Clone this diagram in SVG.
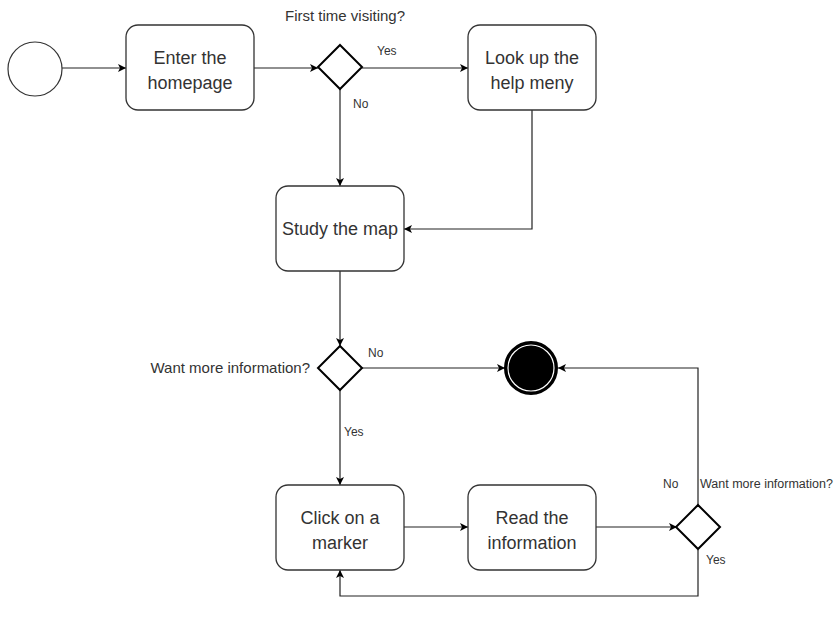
<svg xmlns="http://www.w3.org/2000/svg" width="838" height="625" viewBox="0 0 838 625">
  <defs>
    <marker id="arrow" markerWidth="10" markerHeight="10" refX="8" refY="5" orient="auto" markerUnits="userSpaceOnUse">
      <path d="M0,1 L8,5 L0,9 L2,5 Z" fill="#000"/>
    </marker>
    <style>
      .box { fill: #fff; stroke: #333; stroke-width: 1.3; }
      .dec { fill: #fff; stroke: #000; stroke-width: 2; }
      .edge { fill: none; stroke: #222; stroke-width: 1.2; marker-end: url(#arrow); }
      .t { font-family: "Liberation Sans", Arial, sans-serif; font-size: 18px; fill: #333; text-anchor: middle; }
      .lbl { font-family: "Liberation Sans", Arial, sans-serif; font-size: 12px; fill: #333; }
      .q { font-family: "Liberation Sans", Arial, sans-serif; font-size: 15px; fill: #333; }
    </style>
  </defs>
  <rect width="838" height="625" fill="#fff"/>

  <g id="connectors">
    <path class="edge" d="M62,68 L126,68"/>
    <path class="edge" d="M254,68 L318,68"/>
    <path class="edge" d="M362,68 L468,68"/>
    <path class="edge" d="M340,89 L340,186"/>
    <path class="edge" d="M532,110 L532,229 L404,229"/>
    <path class="edge" d="M340,271 L340,346"/>
    <path class="edge" d="M362,368 L505,368"/>
    <path class="edge" d="M340,390 L340,485"/>
    <path class="edge" d="M404,527 L468,527"/>
    <path class="edge" d="M596,527 L677,527"/>
    <path class="edge" d="M698,505 L698,368 L558,368"/>
    <path class="edge" d="M698,550 L698,596 L340,596 L340,570"/>
    <text class="lbl" x="377" y="55">Yes</text>
    <text class="lbl" x="353" y="108">No</text>
    <text class="lbl" x="368" y="357">No</text>
    <text class="lbl" x="344" y="436">Yes</text>
    <text class="lbl" x="663" y="488">No</text>
    <text class="lbl" x="706" y="564">Yes</text>
  </g>

  <g id="start">
    <circle cx="35" cy="69" r="27" fill="#fff" stroke="#333" stroke-width="1.2"/>
  </g>

  <g id="enter-homepage">
    <rect class="box" x="126" y="25" width="128" height="85" rx="12"/>
    <text class="t" x="190" y="64">Enter the</text>
    <text class="t" x="190" y="89">homepage</text>
  </g>

  <g id="first-visit">
    <polygon class="dec" points="340,45 362,67 340,89 318,67"/>
    <text class="q" x="345" y="21" text-anchor="middle">First time visiting?</text>
  </g>

  <g id="help-menu">
    <rect class="box" x="468" y="25" width="128" height="85" rx="12"/>
    <text class="t" x="532" y="64">Look up the</text>
    <text class="t" x="532" y="89">help meny</text>
  </g>

  <g id="study-map">
    <rect class="box" x="276" y="186" width="128" height="85" rx="12"/>
    <text class="t" x="340" y="235">Study the map</text>
  </g>

  <g id="more-info-1">
    <polygon class="dec" points="340,346 362,368 340,390 318,368"/>
    <text class="q" x="310" y="373" text-anchor="end">Want more information?</text>
  </g>

  <g id="end">
    <circle cx="531" cy="368" r="26" fill="#000" stroke="#000" stroke-width="2"/>
    <circle cx="531" cy="368" r="23" fill="none" stroke="#fff" stroke-width="1.2"/>
  </g>

  <g id="click-marker">
    <rect class="box" x="276" y="485" width="128" height="85" rx="12"/>
    <text class="t" x="340" y="524">Click on a</text>
    <text class="t" x="340" y="549">marker</text>
  </g>

  <g id="read-info">
    <rect class="box" x="468" y="485" width="128" height="85" rx="12"/>
    <text class="t" x="532" y="524">Read the</text>
    <text class="t" x="532" y="549">information</text>
  </g>

  <g id="more-info-2">
    <polygon class="dec" points="698,505 720,527 698,549 676,527"/>
    <text class="lbl" x="700" y="488" style="font-size:12.5px">Want more information?</text>
  </g>
</svg>
